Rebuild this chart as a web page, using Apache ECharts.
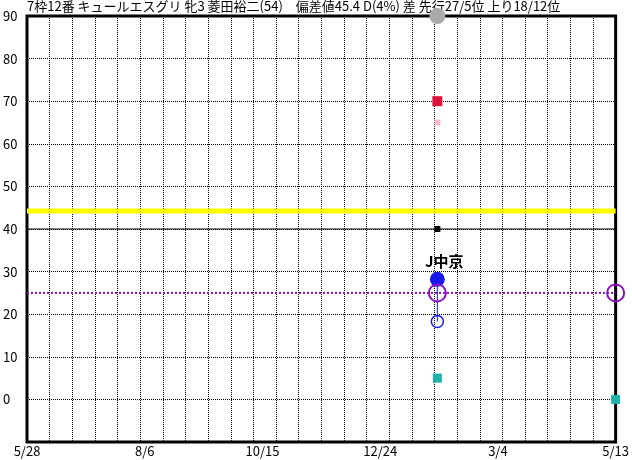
<!DOCTYPE html>
<html><head><meta charset="utf-8">
<script src="https://cdn.jsdelivr.net/npm/echarts@6/dist/echarts.min.js"></script>
<style>html,body{margin:0;padding:0;background:#fff}#c{width:632px;height:460px}</style>
</head><body><div id="c"></div><script>
// ---- data ----
const titleText = '7枠12番 キュールエスグリ 牝3 菱田裕二(54)　偏差値45.4 D(4%) 差 先行27/5位 上り18/12位';
const xTickDays = [0, 70, 140, 210, 280, 350];
const xTickLabels = ['5/28', '8/6', '10/15', '12/24', '3/4', '5/13'];
const gridDivisions = 26;
const raceDays = [244, 350];
const grayMark = [90, null];
const redMark = [70, null];
const pinkMark = [65, null];
const blackMark = [40, null];
const blueFilled = [28.2, null];
const purpleRing = [25, 25];
const blueRing = [18.3, null];
const tealMark = [5, 0];
const raceLabels = ['J中京', ''];
const yellowLevel = 44.2;
const blackLevel = 40;
const purpleLevel = 25;

function pts(vals) {
  const out = [];
  raceDays.forEach((d, i) => { if (vals[i] != null) out.push([d, vals[i]]); });
  return out;
}
const FONT = '"Noto Sans CJK JP", "Noto Sans", sans-serif';
const chart = echarts.init(document.getElementById('c'), null, {renderer: 'canvas'});
const sc = (name, vals, symbol, size, color, extra) => {
  const s = Object.assign({
    type: 'scatter', name, data: pts(vals), symbol, symbolSize: size,
    clip: false, silent: true, z: 5, animation: false
  }, extra || {});
  s.itemStyle = Object.assign({color, opacity: 1}, (extra && extra.itemStyle) || {});
  return s;
};
const hline = (v, color, width, type, z) => ({
  type: 'line', data: [[xTickDays[0], v], [xTickDays[xTickDays.length - 1], v]],
  symbol: 'none', lineStyle: {color, width, type, opacity: 1}, z, silent: true, animation: false
});
chart.setOption({
  animation: false,
  title: {
    text: titleText, left: 27, top: 0, padding: 0,
    textStyle: {fontSize: 13, fontWeight: 'normal', color: '#000', fontFamily: FONT}
  },
  grid: {left: 25, top: 16, width: 592, height: 426, show: true, borderColor: '#000', borderWidth: 3, backgroundColor: 'transparent', containLabel: false},
  xAxis: [{
    type: 'value', min: xTickDays[0], max: xTickDays[xTickDays.length - 1], interval: 70, position: 'bottom',
    axisLine: {show: false}, axisTick: {show: false}, splitLine: {show: false},
    axisLabel: {color: '#000', fontSize: 13, fontFamily: FONT, margin: 3, showMinLabel: true, showMaxLabel: true,
      formatter: v => { const i = xTickDays.indexOf(v); return i >= 0 ? xTickLabels[i] : ''; }}
  }, {
    type: 'value', min: 0, max: gridDivisions, interval: 1, position: 'top',
    axisLine: {show: false}, axisTick: {show: false}, axisLabel: {show: false},
    splitLine: {show: true, lineStyle: {color: '#000', width: 1, type: [1, 1]}}
  }],
  yAxis: {
    type: 'value', min: -10, max: 90, interval: 10,
    axisLine: {show: false}, axisTick: {show: false},
    splitLine: {show: true, lineStyle: {color: '#000', width: 1, type: [1, 1]}},
    axisLabel: {color: '#000', fontSize: 13, fontFamily: FONT, align: 'left', margin: 24,
      formatter: v => v < 0 ? '' : String(v)}
  },
  series: [
    hline(yellowLevel, '#ffff00', 5, 'solid', 3),
    hline(blackLevel, '#000000', 1, 'solid', 3),
    hline(purpleLevel, '#8a10c0', 2, [2, 2], 3),
    {type: 'line', data: [[raceDays[0], blueFilled[0]], [raceDays[0], blueRing[0]]], symbol: 'none',
      lineStyle: {color: '#1818e8', width: 1}, z: 4, silent: true, animation: false},
    sc('gray', grayMark, 'circle', 16, '#aaaaaa', {z: 10}),
    sc('red', redMark, 'rect', 10, '#dc143c'),
    sc('pink', pinkMark, 'rect', 6, '#f7b8c8'),
    sc('black', blackMark, 'rect', 6, '#000000'),
    sc('teal', tealMark, 'rect', 9, '#20b2aa'),
    sc('blueRing', blueRing, 'circle', 12, '#ffffff', {itemStyle: {color: 'rgba(0,0,0,0)', borderColor: '#1818e8', borderWidth: 1.5}}),
    sc('blueFilled', blueFilled, 'circle', 15, '#1818e8', {
      label: {show: true, position: 'top', distance: 3, offset: [7, 0], color: '#000', fontSize: 15, fontWeight: 'bold', fontFamily: FONT,
        formatter: p => raceLabels[p.dataIndex]}
    }),
    sc('purpleRing', purpleRing, 'circle', 17, '#8a10c0', {itemStyle: {color: 'rgba(0,0,0,0)', borderColor: '#8a10c0', borderWidth: 2}, z: 6})
  ]
});
</script></body></html>
